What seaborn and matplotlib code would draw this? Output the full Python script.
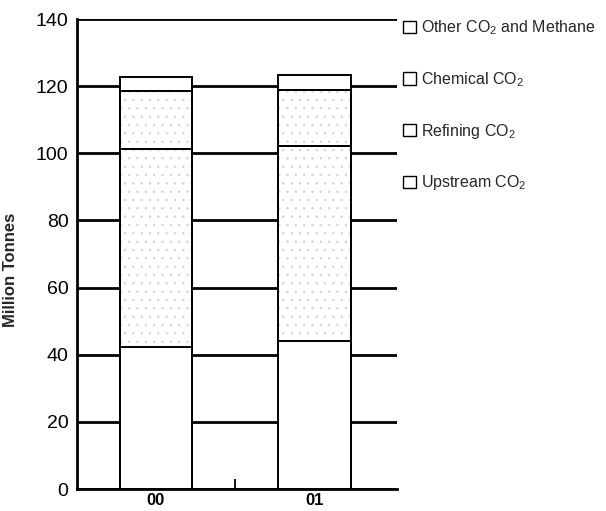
import matplotlib
matplotlib.use("Agg")
import matplotlib.pyplot as plt
from matplotlib.patches import Patch
import numpy as np
import pandas as pd
import seaborn as sns

# Emissions by source, million tonnes
years = ["00", "01"]
upstream = [42.2, 44.1]
refining = [59.0, 58.1]
chemical = [17.5, 16.7]
other = [4.1, 4.5]

series_names = ["Upstream CO$_2$", "Refining CO$_2$", "Chemical CO$_2$", "Other CO$_2$ and Methane"]
y_ticks = [0, 20, 40, 60, 80, 100, 120, 140]

sns.set_theme(style="white")
plt.rcParams["font.family"] = ["Liberation Sans Narrow", "Liberation Sans", "DejaVu Sans"]
plt.rcParams["mathtext.default"] = "regular"
plt.rcParams["hatch.linewidth"] = 0.5

df = pd.DataFrame({"year": years, "up": upstream, "ref": refining,
                   "chem": chemical, "oth": other})
df["c_up"] = df["up"]
df["c_ref"] = df["c_up"] + df["ref"]
df["c_chem"] = df["c_ref"] + df["chem"]
df["c_oth"] = df["c_chem"] + df["oth"]

fig = plt.figure(figsize=(6.06, 5.11), dpi=100)
ax = fig.add_axes([0.1266, 0.043, 0.5284, 0.9198])

W = 0.46
# layered cumulative bars, tallest first; stippled layers get a faint dot hatch
layers = [("c_oth", False), ("c_chem", True), ("c_ref", True), ("c_up", False)]
for col, stipple in layers:
    sns.barplot(data=df, x="year", y=col, color="white", width=W, ax=ax,
                edgecolor="black", linewidth=1.4, saturation=1, zorder=3)
    if stipple:
        sns.barplot(data=df, x="year", y=col, color="white", width=W, ax=ax,
                    edgecolor="#d2d2d2", linewidth=0, hatch="..",
                    saturation=1, zorder=3, fill=False)
        # redraw outline on top of the hatch
        sns.barplot(data=df, x="year", y=col, width=W, ax=ax, fill=False,
                    edgecolor="black", linewidth=1.4, zorder=3)

ax.set_xlim(-0.5, 1.52)
ax.set_ylim(0, 140)
ax.set_yticks(y_ticks)
ax.set_yticklabels([str(t) for t in y_ticks], fontsize=14)
ax.set_xticks(range(len(years)))
ax.set_xticklabels(years, fontsize=12, fontweight="bold")
ax.set_xticks([0.5], minor=True)
ax.tick_params(axis="x", which="minor", direction="in", length=7, width=1.3,
               bottom=True, color="black")
ax.tick_params(axis="both", which="major", length=0, pad=6, colors="black")
ax.tick_params(axis="x", which="major", pad=3)

ax.yaxis.grid(True, color="black", linewidth=2.0, zorder=0)
ax.xaxis.grid(False)
ax.set_axisbelow(True)
for s in ["top", "right"]:
    ax.spines[s].set_visible(False)
for s in ["left", "bottom"]:
    ax.spines[s].set_color("black")
    ax.spines[s].set_linewidth(2.0)
    ax.spines[s].set_zorder(4)

ax.set_xlabel("")
ax.set_ylabel("Million Tonnes", fontsize=12, fontweight="bold")
ax.yaxis.set_label_coords(-0.183, 0.466)

handles = [Patch(facecolor="white", edgecolor="black", linewidth=1.0) for _ in series_names]
leg = fig.legend(handles[::-1], series_names[::-1], loc="upper left",
                 bbox_to_anchor=(0.655, 0.976), frameon=False, fontsize=11.5,
                 handlelength=0.8, handleheight=0.8, handletextpad=0.3,
                 labelspacing=2.05, borderaxespad=0)

fig.savefig("out.png", dpi=100)
